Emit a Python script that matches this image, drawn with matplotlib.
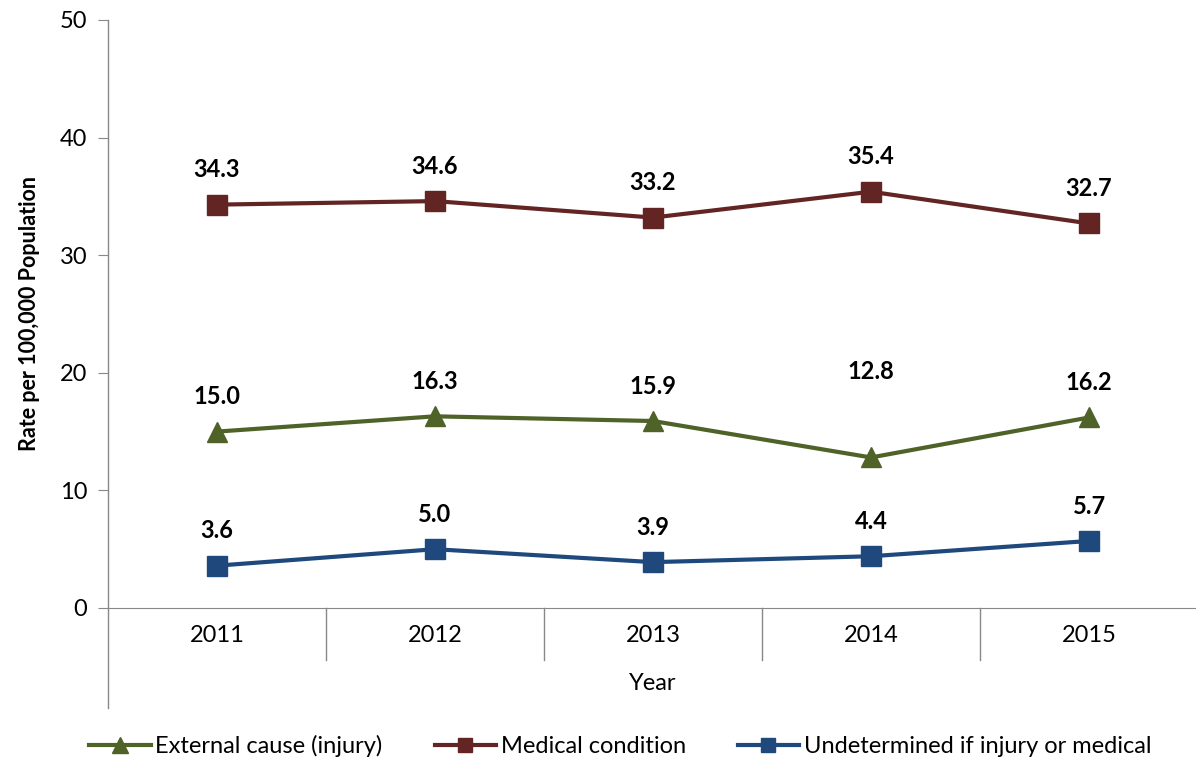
import matplotlib
matplotlib.use('Agg')
import matplotlib.pyplot as plt
import numpy as np

# data
years = ['2011', '2012', '2013', '2014', '2015']
external = [15.0, 16.3, 15.9, 12.8, 16.2]
medical = [34.3, 34.6, 33.2, 35.4, 32.7]
undetermined = [3.6, 5.0, 3.9, 4.4, 5.7]

plt.rcParams['font.family'] = ['Lato', 'DejaVu Sans']

fig = plt.figure(figsize=(11.96, 7.63), dpi=100)
ax = fig.add_axes([108/1196, (763-608)/763, 1090/1196, 588/763])

x = np.arange(len(years))
green = '#4F6228'
red = '#632523'
blue = '#1F497D'

ax.plot(x, external, color=green, lw=3, marker='^', ms=15, clip_on=False,
        label='External cause (injury)')
ax.plot(x, medical, color=red, lw=3, marker='s', ms=14, clip_on=False,
        label='Medical condition')
ax.plot(x, undetermined, color=blue, lw=3, marker='s', ms=14, clip_on=False,
        label='Undetermined if injury or medical')

# labels above points (one label moved up by hand in the original)
for series in (external, medical, undetermined):
    for i, v in enumerate(series):
        off = 25
        if series is external and i == 3:
            off = 62
        ax.annotate('%.1f' % v, (i, v), xytext=(0, off), textcoords='offset points',
                    ha='center', va='center', fontsize=17, fontweight='bold', color='#000000')

ax.set_xlim(-0.5, len(years) - 0.5)
ax.set_ylim(0, 50)
ax.set_yticks(np.arange(0, 51, 10))
ax.tick_params(axis='y', length=7, color='#888888', labelsize=17, pad=8)
ax.set_xticks(x)
ax.set_xticklabels(years)
ax.tick_params(axis='x', length=0, labelsize=17, pad=12)

for s in ['top', 'right', 'left']:
    ax.spines[s].set_visible(False)
ax.spines['bottom'].set_color('#888888')

# y axis line running below the category axis
ax.plot([0, 0], [-0.17, 1], transform=ax.transAxes, color='#888888', lw=1, clip_on=False)
# category dividers
trans = ax.get_xaxis_transform()
for b in np.arange(0.5, len(years) - 0.5, 1):
    ax.plot([b, b], [0, -0.088], transform=trans, color='#888888', lw=1, clip_on=False)

ax.set_ylabel('Rate per 100,000 Population', fontsize=15.5, fontweight='bold', labelpad=14)
ax.set_xlabel('Year', fontsize=17, labelpad=20)

ax.legend(loc='center', bbox_to_anchor=(0.47, -0.235), ncol=3, frameon=False,
          fontsize=17, handlelength=2.6, columnspacing=2.2, handletextpad=0.2,
          markerscale=0.75)

fig.savefig('out.png', dpi=100)
